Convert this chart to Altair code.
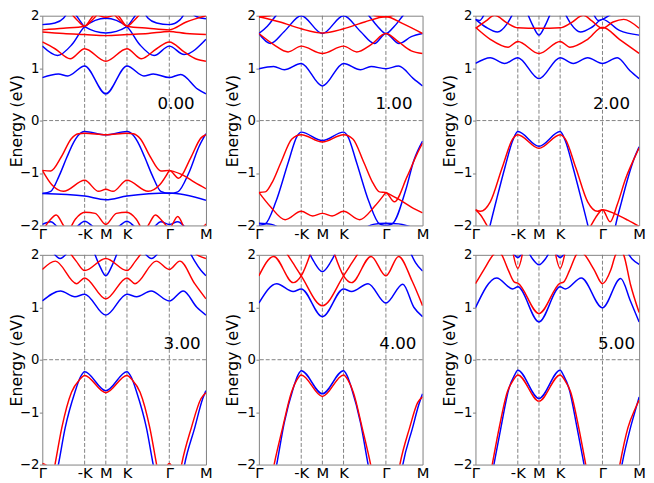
import altair as alt
import pandas as pd

# ---------------- axis / annotation values ----------------
X_TICKS = [0, 1, 1.5, 2, 3, 3.866]
X_LABELS = ["Γ", "-K", "M", "K", "Γ", "M"]
Y_TICKS = [-2, -1, 0, 1, 2]
GRID_X = [1, 1.5, 2, 3]
SHIFTS = ["0.00", "1.00", "2.00", "3.00", "4.00", "5.00"]
ANN_X = [3.60, 3.63, 3.65, 3.74, 3.72, 3.77]
ANN_Y = [0.31, 0.31, 0.31, 0.29, 0.29, 0.29]

# ---------------- bands: (k, E) ----------------
P1_BLUE = [
    [(0, 0.82), (0.38, 0.89), (0.6, 0.85), (1, 1.04), (1.5, 0.51), (2, 1.04), (2.4, 0.85), (2.62, 0.89), (3, 0.82), (3.27, 0.88), (3.67, 0.6), (3.866, 0.51)],
    [(0, 1.42), (0.36, 1.24), (0.7, 1.45), (1, 1.79), (1.5, 1.95), (2, 1.79), (2.3, 1.45), (2.64, 1.24), (3, 1.42), (3.35, 1.26), (3.866, 1.55)],
    [(0.72, 2.1), (0.86, 1.94), (1, 1.79), (1.5, 1.67), (2, 1.79), (2.14, 1.94), (2.28, 2.1)],
    [(0, 1.83), (0.3, 1.86), (0.5, 1.95), (0.62, 2.1)],
    [(2.38, 2.1), (2.5, 1.95), (2.7, 1.86), (3, 1.83), (3.25, 1.92), (3.4, 2.1)],
    [(3.45, 2.1), (3.65, 1.98), (3.866, 1.94)],
    [(0, -1.39), (0.2, -1.35), (0.4, -1.05), (0.58, -0.7), (0.75, -0.4), (0.92, -0.23), (1, -0.21), (1.5, -0.27), (2, -0.21), (2.08, -0.23), (2.25, -0.4), (2.42, -0.7), (2.6, -1.05), (2.8, -1.35), (3, -1.39), (3.2, -1.36), (3.46, -1.0), (3.7, -0.5), (3.866, -0.25)],
    [(0, -1.39), (1, -1.44), (1.5, -1.51), (2, -1.44), (3, -1.38), (3.866, -1.52)],
    [(0, -1.98), (0.2, -1.93), (0.42, -2.05), (0.75, -2.05), (1, -1.92), (1.25, -2.05), (1.5, -2.1), (1.75, -2.05), (2, -1.92), (2.25, -2.05), (2.58, -2.05), (2.8, -1.93), (3, -1.98), (3.2, -1.93), (3.42, -2.05), (3.866, -2.1)],
]
P1_RED = [
    [(0, 1.5), (0.3, 1.37), (0.66, 1.18), (1, 1.37), (1.5, 1.13), (2, 1.37), (2.34, 1.18), (2.7, 1.37), (3, 1.5), (3.35, 1.31), (3.65, 1.17), (3.866, 1.13)],
    [(0, 1.69), (0.5, 1.66), (1, 1.64), (1.5, 1.62), (2, 1.64), (2.5, 1.66), (3, 1.70), (3.4, 1.66), (3.866, 1.64)],
    [(0, 1.73), (0.5, 1.76), (1, 1.8), (1.25, 2.02), (1.5, 1.97), (1.75, 2.02), (2, 1.8), (2.5, 1.76), (3, 1.73), (3.4, 1.88), (3.866, 2.0)],
    [(0.62, 2.1), (0.82, 1.92), (1, 1.8), (1.18, 1.92), (1.38, 2.1)],
    [(1.62, 2.1), (1.82, 1.92), (2, 1.8), (2.18, 1.92), (2.38, 2.1)],
    [(0, -0.95), (0.2, -0.96), (0.45, -0.69), (0.68, -0.35), (0.85, -0.25), (1, -0.24), (1.5, -0.27), (2, -0.24), (2.15, -0.25), (2.32, -0.35), (2.55, -0.69), (2.8, -0.96), (3, -0.95), (3.22, -1.1), (3.5, -0.72), (3.75, -0.33), (3.866, -0.27)],
    [(3, -0.95), (3.3, -1.03), (3.6, -1.18), (3.866, -1.3)],
    [(0, -0.95), (0.22, -1.22), (0.5, -1.35), (1, -1.14), (1.33, -1.35), (1.5, -1.31), (1.67, -1.35), (2, -1.14), (2.5, -1.35), (2.78, -1.22), (3, -0.95)],
    [(0, -2.1), (0.15, -1.93), (0.33, -1.8), (0.5, -2.0), (0.6, -2.1), (0.78, -1.88), (1, -1.75), (1.25, -1.77), (1.5, -1.98), (1.75, -1.77), (2, -1.75), (2.22, -1.88), (2.4, -2.1), (2.5, -2.0), (2.67, -1.8), (2.85, -1.93), (3, -2.05), (3.2, -1.83), (3.4, -2.08), (3.7, -2.08), (3.866, -1.97)],
]

P2_BLUE = [
    [(0, 0.99), (0.35, 1.03), (0.6, 0.97), (1, 1.09), (1.5, 0.66), (2, 1.09), (2.4, 0.97), (2.65, 1.03), (3, 0.99), (3.3, 1.04), (3.65, 0.8), (3.866, 0.66)],
    [(0, 1.66), (0.27, 1.47), (0.6, 1.7), (1, 2.0), (1.5, 1.66), (2, 2.0), (2.4, 1.7), (2.73, 1.47), (3, 1.66), (3.31, 1.47), (3.6, 1.6), (3.866, 1.66)],
    [(0, 1.66), (0.2, 1.8), (0.4, 2.0), (0.5, 2.1)],
    [(2.5, 2.1), (2.6, 2.0), (2.8, 1.8), (3, 1.66), (3.2, 1.8), (3.4, 2.0), (3.5, 2.1)],
    [(0, -2.0), (0.15, -1.97), (0.4, -1.55), (0.7, -0.78), (0.9, -0.3), (1, -0.22), (1.5, -0.38), (2, -0.22), (2.1, -0.3), (2.3, -0.78), (2.6, -1.55), (2.85, -1.97), (3, -2.0), (3.15, -1.97), (3.47, -1.32), (3.66, -0.76), (3.866, -0.39)],
    [(0, -1.96), (0.3, -1.98), (0.6, -2.1), (1.5, -2.3), (2.4, -2.1), (2.7, -1.98), (3, -1.96), (3.3, -1.97), (3.6, -2.03), (3.866, -2.08)],
]
P2_RED = [
    [(0, 1.66), (0.35, 1.45), (0.69, 1.31), (1, 1.42), (1.5, 1.28), (2, 1.42), (2.31, 1.31), (2.65, 1.45), (3, 1.66), (3.3, 1.5), (3.6, 1.33), (3.866, 1.28)],
    [(0, 1.98), (0.5, 1.88), (1, 1.75), (1.5, 1.67), (2, 1.75), (2.5, 1.88), (3, 1.98), (3.4, 1.85), (3.866, 1.66)],
    [(0, 1.98), (0.25, 2.0), (0.45, 2.1)],
    [(2.55, 2.1), (2.75, 2.0), (3, 1.98), (3.2, 2.02), (3.35, 2.1)],
    [(0, -1.37), (0.15, -1.36), (0.3, -1.2), (0.52, -0.8), (0.78, -0.35), (1, -0.27), (1.5, -0.41), (2, -0.27), (2.22, -0.35), (2.48, -0.8), (2.7, -1.2), (2.85, -1.36), (3, -1.37), (3.2, -1.55), (3.5, -1.07), (3.74, -0.63), (3.866, -0.43)],
    [(0, -1.37), (0.27, -1.64), (0.62, -1.89), (1, -1.73), (1.27, -1.82), (1.5, -1.77), (1.73, -1.82), (2, -1.73), (2.38, -1.89), (2.73, -1.64), (3, -1.37)],
    [(3, -1.37), (3.3, -1.5), (3.6, -1.65), (3.866, -1.76)],
]

P3_BLUE = [
    [(0, 1.09), (0.35, 1.2), (0.69, 1.09), (1, 1.2), (1.5, 0.8), (2, 1.2), (2.31, 1.09), (2.65, 1.2), (3, 1.09), (3.35, 1.2), (3.65, 0.95), (3.866, 0.8)],
    [(0, 1.93), (0.25, 1.78), (0.52, 1.69), (0.75, 1.85), (0.92, 2.1)],
    [(1.2, 2.1), (1.35, 1.82), (1.5, 1.63), (1.65, 1.82), (1.8, 2.1)],
    [(2.08, 2.1), (2.25, 1.85), (2.48, 1.69), (2.75, 1.78), (3, 1.93), (3.4, 1.72), (3.866, 1.63)],
    [(0, 1.93), (0.1, 1.91), (0.22, 2.05)],
    [(2.78, 2.05), (2.9, 1.91), (3, 1.93), (3.15, 2.0), (3.3, 2.1)],
    [(0.2, -2.5), (0.33, -2.05), (0.5, -1.5), (0.7, -0.88), (0.88, -0.38), (1, -0.21), (1.5, -0.49), (2, -0.21), (2.12, -0.38), (2.3, -0.88), (2.5, -1.5), (2.67, -2.05), (2.8, -2.5)],
    [(3.2, -2.5), (3.31, -2.0), (3.45, -1.55), (3.6, -1.1), (3.75, -0.72), (3.866, -0.5)],
]
P3_RED = [
    [(0, 1.78), (0.35, 1.55), (0.77, 1.4), (1, 1.51), (1.5, 1.28), (2, 1.51), (2.23, 1.4), (2.65, 1.55), (3, 1.78), (3.4, 1.55), (3.866, 1.28)],
    [(0, 1.76), (0.25, 1.9), (0.45, 2.01), (0.75, 1.86), (1, 1.77), (1.5, 1.76), (2, 1.77), (2.25, 1.86), (2.55, 2.01), (2.75, 1.9), (3, 1.76), (3.25, 1.88), (3.5, 1.93), (3.866, 1.76)],
    [(0, -1.7), (0.12, -1.73), (0.35, -1.55), (0.63, -0.9), (0.88, -0.35), (1, -0.27), (1.5, -0.53), (2, -0.27), (2.12, -0.35), (2.37, -0.9), (2.65, -1.55), (2.88, -1.73), (3, -1.7), (3.18, -1.93), (3.35, -1.6), (3.55, -1.1), (3.75, -0.72), (3.866, -0.52)],
    [(0, -1.7), (0.12, -1.8), (0.25, -1.97), (0.4, -2.2)],
    [(2.6, -2.2), (2.75, -1.97), (2.88, -1.8), (3, -1.7), (3.3, -1.78), (3.6, -1.9), (3.866, -2.02)],
]

P4_BLUE = [
    [(0, 1.12), (0.43, 1.31), (0.77, 1.2), (1, 1.25), (1.5, 0.85), (2, 1.25), (2.23, 1.2), (2.57, 1.31), (3, 1.12), (3.33, 1.31), (3.65, 1.0), (3.866, 0.85)],
    [(1.2, 2.1), (1.35, 1.8), (1.5, 1.6), (1.65, 1.8), (1.8, 2.1)],
    [(0.25, 2.05), (0.42, 1.93), (0.6, 2.05)],
    [(2.4, 2.05), (2.58, 1.93), (2.75, 2.05)],
    [(3.45, 2.1), (3.6, 1.88), (3.75, 1.7), (3.866, 1.6)],
    [(0.25, -2.5), (0.38, -2.0), (0.54, -1.3), (0.77, -0.62), (0.9, -0.33), (1, -0.23), (1.5, -0.59), (2, -0.23), (2.1, -0.33), (2.23, -0.62), (2.46, -1.3), (2.62, -2.0), (2.75, -2.5)],
    [(3.25, -2.5), (3.36, -2.0), (3.6, -1.3), (3.79, -0.74), (3.866, -0.59)],
]
P4_RED = [
    [(0, 1.72), (0.31, 1.88), (0.81, 1.45), (1, 1.56), (1.5, 1.16), (2, 1.56), (2.19, 1.45), (2.69, 1.88), (3, 1.72), (3.25, 1.88), (3.6, 1.45), (3.866, 1.16)],
    [(0.6, 2.1), (0.8, 1.88), (1, 1.7), (1.5, 1.93), (2, 1.7), (2.2, 1.88), (2.4, 2.1)],
    [(3.5, 2.1), (3.7, 1.98), (3.866, 1.93)],
    [(0, -1.98), (0.12, -2.03), (0.25, -2.2)],
    [(2.85, -2.2), (3, -1.98), (3.15, -2.2)],
    [(0.18, -2.5), (0.3, -2.0), (0.46, -1.3), (0.69, -0.62), (0.88, -0.38), (1, -0.3), (1.5, -0.63), (2, -0.3), (2.12, -0.38), (2.31, -0.62), (2.54, -1.3), (2.7, -2.0), (2.82, -2.5)],
    [(3.18, -2.5), (3.29, -2.0), (3.52, -1.3), (3.75, -0.74), (3.866, -0.63)],
]

P5_BLUE = [
    [(0, 1.08), (0.42, 1.45), (0.81, 1.3), (1, 1.35), (1.5, 0.82), (2, 1.35), (2.19, 1.3), (2.58, 1.45), (3, 1.08), (3.4, 1.44), (3.66, 1.0), (3.866, 0.82)],
    [(1.15, 2.1), (1.3, 1.87), (1.5, 1.68), (1.7, 1.87), (1.85, 2.1)],
    [(3.55, 2.1), (3.7, 1.85), (3.866, 1.69)],
    [(0.3, -2.5), (0.42, -2.0), (0.6, -1.2), (0.81, -0.55), (0.92, -0.3), (1, -0.21), (1.5, -0.65), (2, -0.21), (2.08, -0.3), (2.19, -0.55), (2.4, -1.2), (2.58, -2.0), (2.7, -2.5)],
    [(3.3, -2.5), (3.4, -2.0), (3.63, -1.3), (3.78, -0.85), (3.866, -0.65)],
]
P5_RED = [
    [(0, 1.6), (0.35, 1.97), (0.81, 1.47), (1, 1.6), (1.25, 2.1)],
    [(0.6, 2.1), (0.8, 1.85), (1, 1.6), (1.5, 1.03), (2, 1.6), (2.2, 1.85), (2.4, 2.1)],
    [(1.75, 2.1), (2, 1.6), (2.19, 1.47), (2.65, 1.97), (3, 1.6), (3.3, 1.97), (3.62, 1.5), (3.866, 1.03)],
    [(0.24, -2.5), (0.36, -2.0), (0.56, -1.3), (0.77, -0.62), (0.9, -0.38), (1, -0.29), (1.5, -0.7), (2, -0.29), (2.1, -0.38), (2.23, -0.62), (2.44, -1.3), (2.64, -2.0), (2.76, -2.5)],
    [(3.22, -2.5), (3.33, -2.0), (3.56, -1.3), (3.75, -0.82), (3.866, -0.71)],
]

P6_BLUE = [
    [(0, 0.99), (0.5, 1.56), (0.88, 1.35), (1, 1.39), (1.5, 0.72), (2, 1.39), (2.12, 1.35), (2.5, 1.56), (3, 0.99), (3.43, 1.55), (3.66, 1.12), (3.866, 0.72)],
    [(0.88, 2.05), (1, 1.95), (1.12, 2.05)],
    [(1.88, 2.05), (2, 1.95), (2.12, 2.05)],
    [(1.22, 2.1), (1.35, 1.92), (1.5, 1.81), (1.65, 1.92), (1.78, 2.1)],
    [(3.55, 2.1), (3.7, 1.92), (3.866, 1.82)],
    [(0.32, -2.5), (0.44, -1.98), (0.6, -1.3), (0.79, -0.55), (0.92, -0.3), (1, -0.2), (1.5, -0.74), (2, -0.2), (2.08, -0.3), (2.21, -0.55), (2.4, -1.3), (2.56, -1.98), (2.68, -2.5)],
    [(3.35, -2.5), (3.46, -2.0), (3.66, -1.3), (3.8, -0.9), (3.866, -0.71)],
]
P6_RED = [
    [(0, 1.45), (0.2, 1.72), (0.42, 2.0), (0.52, 2.08), (0.62, 2.0), (0.78, 1.7), (0.92, 1.48), (1, 1.46), (1.5, 0.88), (2, 1.46), (2.08, 1.48), (2.22, 1.7), (2.38, 2.0), (2.48, 2.08), (2.58, 2.0), (2.8, 1.72), (3, 1.45), (3.2, 1.72), (3.31, 2.0), (3.42, 2.08), (3.5, 2.0), (3.66, 1.44), (3.866, 0.9)],
    [(0.87, 2.1), (1, 1.74), (1.13, 2.1)],
    [(1.87, 2.1), (2, 1.74), (2.13, 2.1)],
    [(0.28, -2.5), (0.4, -1.98), (0.56, -1.3), (0.75, -0.62), (0.9, -0.38), (1, -0.29), (1.5, -0.79), (2, -0.29), (2.1, -0.38), (2.25, -0.62), (2.44, -1.3), (2.6, -1.98), (2.72, -2.5)],
    [(3.3, -2.5), (3.41, -2.0), (3.6, -1.3), (3.78, -0.92), (3.866, -0.77)],
]

PANELS = [(P1_BLUE, P1_RED), (P2_BLUE, P2_RED), (P3_BLUE, P3_RED),
          (P4_BLUE, P4_RED), (P5_BLUE, P5_RED), (P6_BLUE, P6_RED)]

GRAY = "#808080"
FONT = "DejaVu Sans"

label_expr = f"'{X_LABELS[-1]}'"
for v, l in reversed(list(zip(X_TICKS[:-1], X_LABELS[:-1]))):
    label_expr = f"(abs(datum.value - {v}) < 0.01 ? '{l}' : {label_expr})"

xscale = alt.Scale(domain=[0, 3.866], nice=False, zero=False)
yscale = alt.Scale(domain=[-2, 2], nice=False, zero=False)
xaxis = alt.Axis(values=X_TICKS, labelExpr=label_expr, title=None, tickSize=0,
                 labelPadding=1, labelFlush=False, labelOverlap=False,
                 labelFontSize=15, grid=False, domain=False)
yaxis = alt.Axis(values=Y_TICKS, title="Energy (eV)", tickSize=3, labelPadding=0.5,
                 titlePadding=-5, format="d", labelFontSize=13.5, grid=False, domain=False)


def band_frame(bands):
    rows = []
    for b, pts in enumerate(bands):
        for x, y in pts:
            rows.append({"band": b, "x": x, "y": y})
    return pd.DataFrame(rows)


def panel(i, w):
    blue, red = PANELS[i]
    X = alt.X("x:Q", scale=xscale, axis=xaxis)
    Y = alt.Y("y:Q", scale=yscale, axis=yaxis)
    vgrid = alt.Chart(pd.DataFrame({"x": GRID_X})).mark_rule(
        color=GRAY, strokeDash=[4, 2], strokeWidth=1).encode(x=X)
    hzero = alt.Chart(pd.DataFrame({"y": [0]})).mark_rule(
        color=GRAY, strokeDash=[4, 2], strokeWidth=1).encode(y=Y)
    lb = alt.Chart(band_frame(blue)).mark_line(
        color="#0000ff", strokeWidth=1.5, interpolate="monotone", clip=True
    ).encode(x=X, y=Y, detail="band:N")
    lr = alt.Chart(band_frame(red)).mark_line(
        color="#ff0000", strokeWidth=1.5, interpolate="monotone", clip=True
    ).encode(x=X, y=Y, detail="band:N")
    txt = alt.Chart(pd.DataFrame({"x": [ANN_X[i]], "y": [ANN_Y[i]], "t": [SHIFTS[i]]})).mark_text(
        align="right", baseline="middle", fontSize=17, font=FONT, color="black"
    ).encode(x=X, y=Y, text="t:N")
    return alt.layer(vgrid, hzero, lb, lr, txt).properties(width=w, height=214)


chart = alt.concat(
    *[panel(i, 167) for i in range(6)],
    columns=3, spacing={"row": 30, "column": 54}, bounds="flush"
).properties(
    padding={"left": 0, "top": -5, "right": 0, "bottom": 0}
).configure(font=FONT).configure_view(
    stroke=GRAY, strokeWidth=1
).configure_axis(
    labelFont=FONT, titleFont=FONT, labelColor="black", titleColor="black",
    titleFontSize=16, titleFontWeight="normal", tickColor=GRAY
)

chart.save("out.html", embed_options={"renderer": "svg", "actions": False})
